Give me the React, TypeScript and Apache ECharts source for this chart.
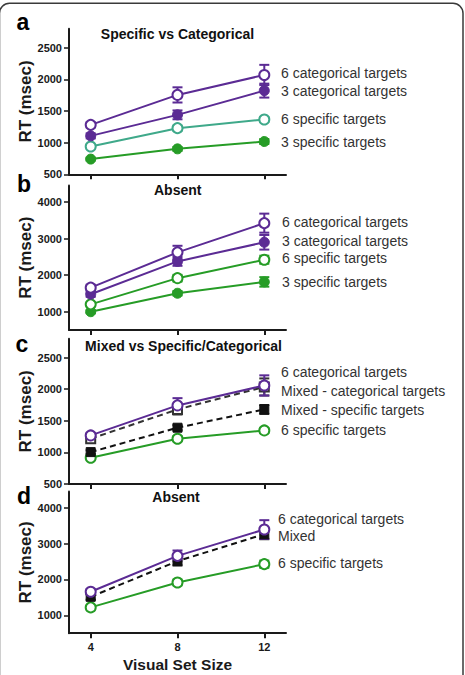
import React, { useEffect, useRef } from "react";
import * as echarts from "echarts";

// Visual set sizes on the shared x axis
const setSizes = [4, 8, 12];

// Panel a: target present, specific vs categorical
const aCat6 = [1281, 1754, 2069];
const aCat6Err = [40, 120, 160];
const aCat3 = [1107, 1439, 1822];
const aCat3Err = [40, 70, 110];
const aSpec6 = [939, 1229, 1365];
const aSpec6Err = [30, 40, 40];
const aSpec3 = [740, 902, 1018];
const aSpec3Err = [20, 30, 40];

// Panel b: target absent
const bCat6 = [1658, 2622, 3421];
const bCat6Err = [80, 180, 260];
const bCat3 = [1477, 2375, 2898];
const bCat3Err = [70, 120, 200];
const bSpec6 = [1201, 1917, 2421];
const bSpec6Err = [50, 90, 110];
const bSpec3 = [1000, 1504, 1815];
const bSpec3Err = [40, 60, 130];

// Panel c: mixed vs specific/categorical
const cCat6 = [1269, 1744, 2060];
const cCat6Err = [40, 115, 160];
const cMixCat = [1217, 1680, 2036];
const cMixCatErr = [50, 80, 135];
const cMixSpec = [1005, 1391, 1680];
const cMixSpecErr = [30, 40, 70];
const cSpec6 = [916, 1217, 1348];
const cSpec6Err = [30, 40, 40];

// Panel d: mixed, target absent
const dCat6 = [1655, 2657, 3393];
const dCat6Err = [80, 150, 260];
const dMix = [1515, 2510, 3262];
const dMixErr = [80, 120, 140];
const dSpec6 = [1220, 1916, 2426];
const dSpec6Err = [50, 80, 100];

// Tick values
const xTicks = [4, 8, 12];
const yTicksLow = [500, 1000, 1500, 2000, 2500];
const yTicksHigh = [1000, 2000, 3000, 4000];

// Panel texts
const panelLetters = ["a", "b", "c", "d"];
const panelTitles = ["Specific vs Categorical", "Absent", "Mixed vs Specific/Categorical", "Absent"];
const aLabels = ["6 categorical targets", "3 categorical targets", "6 specific targets", "3 specific targets"];
const bLabels = ["6 categorical targets", "3 categorical targets", "6 specific targets", "3 specific targets"];
const cLabels = ["6 categorical targets", "Mixed - categorical targets", "Mixed - specific targets", "6 specific targets"];
const dLabels = ["6 categorical targets", "Mixed", "6 specific targets"];

const PURPLE = "#5b2b94";
const GREEN = "#269c26";
const TEAL = "#3fa98a";
const BLACK = "#111111";
const AXIS = "#1a1a1a";
const TEXT = "#333333";
const FONT = "'Liberation Sans', Arial, Helvetica, sans-serif";

type Style = { color: string; open: boolean; square?: boolean; dashed?: boolean };

function lineSeries(grid: number, name: string, values: number[], s: Style) {
  return {
    type: "line",
    name,
    xAxisIndex: grid,
    yAxisIndex: grid,
    data: setSizes.map((x, i) => [x, values[i]]),
    symbol: s.square ? "rect" : "circle",
    symbolSize: s.square ? 9 : 10,
    showAllSymbol: true,
    lineStyle: { color: s.color, width: 2, type: s.dashed ? [6, 4] : "solid" },
    itemStyle: s.open
      ? { color: "#ffffff", borderColor: s.color, borderWidth: 2 }
      : { color: s.color, borderColor: s.color, borderWidth: 1 },
    z: 3,
    silent: true,
  };
}

function errorSeries(grid: number, values: number[], errs: number[], color: string) {
  return {
    type: "custom",
    xAxisIndex: grid,
    yAxisIndex: grid,
    data: setSizes.map((x, i) => [x, values[i] - errs[i], values[i] + errs[i]]),
    encode: { x: 0, y: [1, 2] },
    z: 2,
    silent: true,
    renderItem: (_params: any, api: any) => {
      const lo = api.coord([api.value(0), api.value(1)]);
      const hi = api.coord([api.value(0), api.value(2)]);
      const w = 5;
      const st = { stroke: color, lineWidth: 2 };
      return {
        type: "group",
        children: [
          { type: "line", shape: { x1: lo[0], y1: lo[1], x2: hi[0], y2: hi[1] }, style: st },
          { type: "line", shape: { x1: lo[0] - w, y1: lo[1], x2: lo[0] + w, y2: lo[1] }, style: st },
          { type: "line", shape: { x1: hi[0] - w, y1: hi[1], x2: hi[0] + w, y2: hi[1] }, style: st },
        ],
      };
    },
  };
}

function withErr(grid: number, name: string, values: number[], errs: number[], s: Style) {
  return [errorSeries(grid, values, errs, s.color), lineSeries(grid, name, values, s)];
}

const grids = [
  { left: 69, top: 28.7, width: 217, height: 145.6 },
  { left: 69, top: 185.5, width: 217, height: 144.5 },
  { left: 69, top: 338.7, width: 217, height: 145.3 },
  { left: 69, top: 491.6, width: 217, height: 141.6 },
];
const yRanges = [
  { min: 500, max: 2800, ticks: yTicksLow },
  { min: 500, max: 4450, ticks: yTicksHigh },
  { min: 500, max: 2800, ticks: yTicksLow },
  { min: 500, max: 4450, ticks: yTicksHigh },
];

function textEl(text: string, x: number, y: number, size: number, bold: boolean, align: string, color = TEXT) {
  return {
    type: "text",
    x,
    y,
    silent: true,
    style: {
      text,
      fill: color,
      font: `${bold ? "bold " : ""}${size}px ${FONT}`,
      align,
      verticalAlign: "middle",
    },
  };
}

export default function App() {
  const ref = useRef<HTMLDivElement>(null);

  useEffect(() => {
    if (!ref.current) return;
    const chart = echarts.init(ref.current, undefined, { renderer: "svg" });

    const xAxis = grids.map((_, i) => ({
      type: "value",
      gridIndex: i,
      min: 3,
      max: 13,
      axisLine: { show: true, onZero: false, lineStyle: { color: AXIS, width: 2 } },
      axisTick: { show: true, customValues: xTicks, length: 5, lineStyle: { color: AXIS, width: 2 } },
      axisLabel: {
        show: i === 3,
        customValues: xTicks,
        margin: 8,
        color: AXIS,
        fontSize: 11,
        fontWeight: "bold",
        fontFamily: FONT,
        formatter: (v: number) => String(v),
      },
      splitLine: { show: false },
      name: i === 3 ? "Visual Set Size" : "",
      nameLocation: "middle",
      nameGap: 23,
      nameTextStyle: { color: AXIS, fontSize: 15.5, fontWeight: "bold", fontFamily: FONT },
    }));

    const yAxis = grids.map((_, i) => ({
      type: "value",
      gridIndex: i,
      min: yRanges[i].min,
      max: yRanges[i].max,
      axisLine: { show: true, onZero: false, lineStyle: { color: AXIS, width: 2 } },
      axisTick: { show: true, customValues: yRanges[i].ticks, length: 5, lineStyle: { color: AXIS, width: 1.5 } },
      axisLabel: {
        customValues: yRanges[i].ticks,
        margin: 7,
        color: AXIS,
        fontSize: 11,
        fontWeight: "bold",
        fontFamily: FONT,
        formatter: (v: number) => String(v),
      },
      splitLine: { show: false },
      name: "RT (msec)",
      nameLocation: "middle",
      nameGap: 30,
      nameTextStyle: { color: AXIS, fontSize: 17, fontWeight: "bold", fontFamily: FONT },
    }));

    const series = [
      // a
      ...withErr(0, aLabels[3], aSpec3, aSpec3Err, { color: GREEN, open: false }),
      ...withErr(0, aLabels[2], aSpec6, aSpec6Err, { color: TEAL, open: true }),
      ...withErr(0, aLabels[1], aCat3, aCat3Err, { color: PURPLE, open: false }),
      ...withErr(0, aLabels[0], aCat6, aCat6Err, { color: PURPLE, open: true }),
      // b
      ...withErr(1, bLabels[3], bSpec3, bSpec3Err, { color: GREEN, open: false }),
      ...withErr(1, bLabels[2], bSpec6, bSpec6Err, { color: GREEN, open: true }),
      ...withErr(1, bLabels[1], bCat3, bCat3Err, { color: PURPLE, open: false }),
      ...withErr(1, bLabels[0], bCat6, bCat6Err, { color: PURPLE, open: true }),
      // c
      ...withErr(2, cLabels[3], cSpec6, cSpec6Err, { color: GREEN, open: true }),
      ...withErr(2, cLabels[2], cMixSpec, cMixSpecErr, { color: BLACK, open: false, square: true, dashed: true }),
      ...withErr(2, cLabels[1], cMixCat, cMixCatErr, { color: "#333333", open: true, square: true, dashed: true }),
      ...withErr(2, cLabels[0], cCat6, cCat6Err, { color: PURPLE, open: true }),
      // d
      ...withErr(3, dLabels[2], dSpec6, dSpec6Err, { color: GREEN, open: true, square: false }),
      ...withErr(3, dLabels[1], dMix, dMixErr, { color: BLACK, open: false, square: true, dashed: true }),
      ...withErr(3, dLabels[0], dCat6, dCat6Err, { color: PURPLE, open: true }),
    ];

    const labelY = [
      [72.7, 90.7, 119.3, 141.7],
      [222.3, 241, 258.3, 281.7],
      [372.3, 390.7, 410, 430],
      [519, 536, 563.3],
    ];
    const labelX = [281, 282, 281, 278];
    const labelSets = [aLabels, bLabels, cLabels, dLabels];
    const titlePos = [
      [177.5, 34],
      [177.7, 190],
      [183.5, 345.7],
      [176, 496.7],
    ];
    const letterPos = [
      [23, 22],
      [24, 184],
      [22, 344],
      [24, 496],
    ];

    const graphic: any[] = [
      {
        type: "rect",
        silent: true,
        shape: { x: -0.5, y: 3.3, width: 463.5, height: 720, r: 10 },
        style: { fill: "none", stroke: "#3a3a3a", lineWidth: 1.5 },
        z: -1,
      },
    ];
    labelSets.forEach((set, p) => {
      set.forEach((t, k) => graphic.push(textEl(t, labelX[p], labelY[p][k], 14, false, "left")));
      graphic.push(textEl(panelTitles[p], titlePos[p][0], titlePos[p][1], 14, true, "center", "#111"));
      graphic.push(textEl(panelLetters[p], letterPos[p][0], letterPos[p][1], 23, true, "center", "#000"));
    });

    chart.setOption({
      animation: false,
      backgroundColor: "#ffffff",
      grid: grids,
      xAxis,
      yAxis,
      series,
      graphic,
    });

    return () => chart.dispose();
  }, []);

  return (
    <div
      ref={ref}
      style={{ position: "absolute", left: 0, top: 0, width: 465, height: 675 }}
    />
  );
}
